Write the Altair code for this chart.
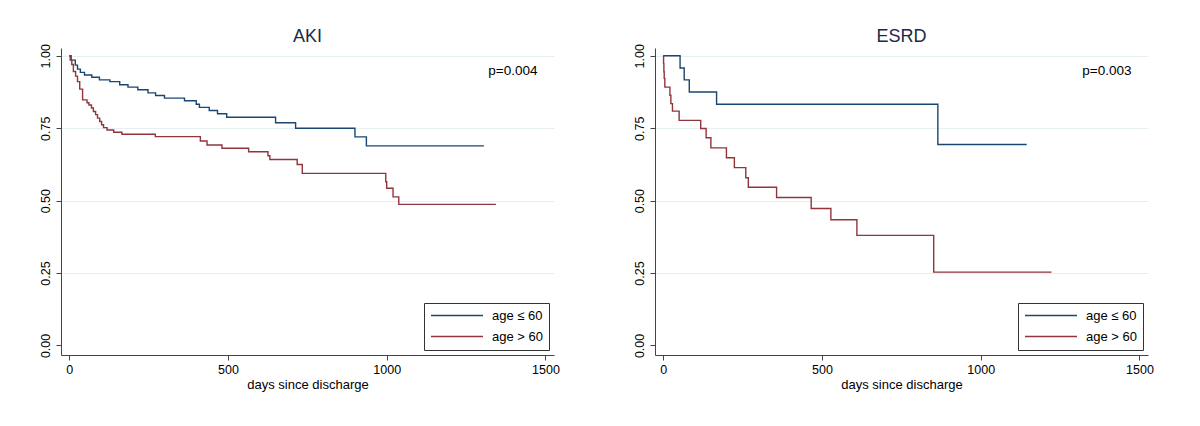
import altair as alt
import pandas as pd

FONT = "Liberation Sans"

groups = ["age ≤ 60", "age > 60"]
group_colors = ["#1a476f", "#90353b"]

panel_titles = ["AKI", "ESRD"]
p_labels = ["p=0.004", "p=0.003"]
p_label_day = [1475, 1475]
p_label_surv = [0.949, 0.949]

x_ticks = [0, 500, 1000, 1500]
y_ticks = [0.0, 0.25, 0.5, 0.75, 1.0]

# AKI, age <= 60
aki_young_days = [0, 6, 19, 26, 35, 48, 71, 95, 128, 159, 185, 216, 248, 272, 300,
                  363, 400, 410, 441, 467, 496, 650, 713, 900, 936, 1306]
aki_young_surv = [1.0, 0.985, 0.968, 0.954, 0.943, 0.934, 0.926, 0.917, 0.911, 0.900,
                  0.892, 0.883, 0.872, 0.863, 0.854, 0.845, 0.833, 0.822, 0.811, 0.800,
                  0.788, 0.769, 0.750, 0.720, 0.689, 0.689]

# AKI, age > 60
aki_old_days = [0, 3, 8, 13, 20, 26, 33, 42, 56, 62, 70, 76, 83, 89, 96, 102, 108,
                119, 140, 166, 271, 413, 434, 481, 565, 626, 632, 718, 734, 997,
                1000, 1020, 1038, 1344]
aki_old_surv = [1.0, 0.985, 0.970, 0.946, 0.930, 0.911, 0.885, 0.848, 0.838, 0.830,
                0.820, 0.808, 0.797, 0.785, 0.773, 0.762, 0.752, 0.744, 0.736, 0.729,
                0.721, 0.706, 0.692, 0.681, 0.669, 0.655, 0.642, 0.625, 0.594, 0.565,
                0.543, 0.513, 0.487, 0.487]

# ESRD, age <= 60
esrd_young_days = [0, 53, 66, 82, 168, 865, 1145]
esrd_young_surv = [1.0, 0.958, 0.917, 0.875, 0.833, 0.694, 0.694]

# ESRD, age > 60
esrd_old_days = [0, 1, 2, 3, 5, 21, 24, 29, 50, 118, 135, 150, 199, 224, 260, 268,
                 357, 466, 528, 610, 852, 1223]
esrd_old_surv = [1.0, 0.973, 0.945, 0.922, 0.892, 0.864, 0.835, 0.809, 0.777, 0.749,
                 0.717, 0.682, 0.648, 0.614, 0.579, 0.546, 0.511, 0.473, 0.434, 0.380,
                 0.253, 0.253]


def frame(days, surv, group):
    return pd.DataFrame({"day": days, "surv": surv, "group": group})


def panel(title, young, old, plabel, pday, psurv):
    df = pd.concat([frame(*young, groups[0]), frame(*old, groups[1])], ignore_index=True)
    x = alt.X(
        "day:Q",
        scale=alt.Scale(domain=[-26, 1527], nice=False, zero=False),
        axis=alt.Axis(
            values=x_ticks, format="d", title="days since discharge", grid=False,
            tickSize=5, labelPadding=3, titlePadding=3,
        ),
    )
    y = alt.Y(
        "surv:Q",
        scale=alt.Scale(domain=[-0.033, 1.027], nice=False, zero=False),
        axis=alt.Axis(
            values=y_ticks, format=".2f", title=None, grid=True,
            gridColor={"condition": {"test": "datum.value === 0", "value": "transparent"},
                       "value": "#e6eff1"},
            tickSize=5, labelAngle=270, labelAlign="center", labelBaseline="bottom",
            labelPadding=4, minExtent=53, maxExtent=53,
        ),
    )
    lines = alt.Chart(df).mark_line(interpolate="step-after", strokeWidth=1.4).encode(
        x=x, y=y,
        color=alt.Color(
            "group:N",
            scale=alt.Scale(domain=groups, range=group_colors),
            legend=alt.Legend(
                title=None, orient="bottom-right", offset=5,
                strokeColor="#333333", fillColor="white", padding=6,
                symbolType="stroke", symbolSize=2704, symbolStrokeWidth=1.4,
                labelFontSize=13, labelFont=FONT, labelColor="black",
                labelOffset=8, rowPadding=7, cornerRadius=0, clipHeight=13,
            ),
        ),
        detail="group:N",
    )
    ptext = pd.DataFrame({"day": [pday], "surv": [psurv], "label": [plabel]})
    text = alt.Chart(ptext).mark_text(
        align="right", baseline="middle", fontSize=13.5, font=FONT, color="black"
    ).encode(x=x, y=y, text="label:N")
    return alt.layer(lines, text).properties(
        width=493, height=307,
        title=alt.TitleParams(
            text=title, fontSize=18, font=FONT, fontWeight="normal",
            color="#1a2a48", anchor="middle", baseline="top", offset=-2,
        ),
    )


left = panel(panel_titles[0], (aki_young_days, aki_young_surv),
             (aki_old_days, aki_old_surv), p_labels[0], p_label_day[0], p_label_surv[0])
right = panel(panel_titles[1], (esrd_young_days, esrd_young_surv),
              (esrd_old_days, esrd_old_surv), p_labels[1], p_label_day[1], p_label_surv[1])

chart = (
    alt.hconcat(left, right, spacing=42)
    .resolve_scale(color="independent")
    .properties(padding={"top": 19, "left": 0, "right": 0, "bottom": 0}, background="white")
    .configure_view(stroke=None)
    .configure_axis(
        domainColor="#444444", tickColor="#444444", labelColor="black",
        labelFont=FONT, labelFontSize=12.5, titleFont=FONT, titleFontSize=13,
        titleFontWeight="normal", titleColor="black", domainWidth=1, tickWidth=1,
    )
)

chart.save("out.html", embed_options={"renderer": "svg", "actions": False})
